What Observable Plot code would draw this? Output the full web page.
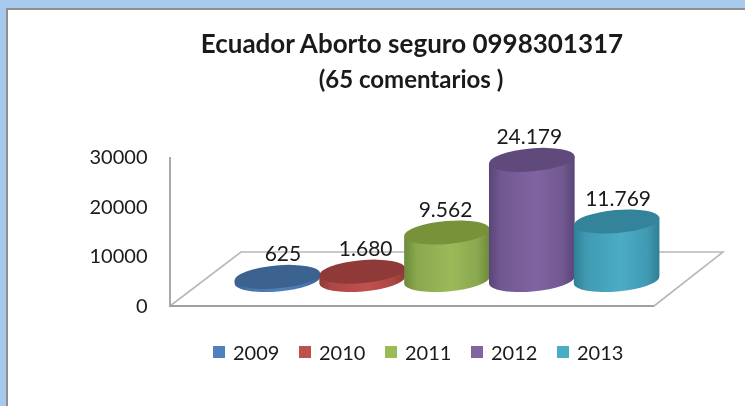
<!DOCTYPE html>
<html>
<head>
<meta charset="utf-8">
<script src="https://cdn.jsdelivr.net/npm/d3@7"></script>
<script src="https://cdn.jsdelivr.net/npm/@observablehq/plot@0.6"></script>
<style>
html,body{margin:0;padding:0;width:745px;height:406px;overflow:hidden;background:#a6c9ec;}
#panel{position:absolute;left:6px;top:8px;width:739px;height:398px;background:#fff;border-left:2px solid #8f8f8f;border-top:2px solid #8f8f8f;box-sizing:border-box;}
#page{position:absolute;left:0;top:0;width:745px;height:406px;font-family:Lato,sans-serif;color:#1a1a1a;filter:blur(0.45px);}
#title{position:absolute;left:0;width:824px;top:28px;text-align:center;font-weight:700;font-size:26px;line-height:30px;}
#subtitle{position:absolute;left:0;width:822px;top:65px;text-align:center;font-weight:700;font-size:24px;line-height:28px;}
#chart{position:absolute;left:0;top:100px;}
#legend{position:absolute;left:213px;top:340px;display:flex;font-size:20px;line-height:24px;}
#legend .item{display:flex;align-items:center;width:86px;}
#legend .sw{width:12px;height:12px;margin-right:8px;}
</style>
</head>
<body>
<div id="panel"></div>
<div id="page">
  <div id="title"></div>
  <div id="subtitle"></div>
  <div id="chart"></div>
  <div id="legend"></div>
</div>
<script>
const titleText = "Ecuador Aborto seguro 0998301317";
const subtitleText = "(65 comentarios )";
const years = ["2009", "2010", "2011", "2012", "2013"];
const counts = [625, 1680, 9562, 24179, 11769];
const yTicks = [0, 10000, 20000, 30000];
const sideColors = ["#4f81bd", "#c0504d", "#9bbb59", "#8064a2", "#4bacc6"];
const edgeColors = ["#3a5f8c", "#8e3a38", "#6d8a3a", "#5b4577", "#2f7f95"];
const topColors = ["#3c6290", "#8f3a38", "#779239", "#604a7b", "#33839b"];
const labelNudge = [5, 3, -2, -3, 1];

const rows = years.map((year, i) => ({year, count: counts[i], i}));
const fmt = d3.formatLocale({decimal: ",", thousands: ".", grouping: [3], currency: ["", ""]}).format(",d");

document.getElementById("title").textContent = titleText;
document.getElementById("subtitle").textContent = subtitleText;

const TILT = -5, RY = 11.5, BASE_RAISE = 26, DEPTH = [71, 69, 54];

function floorRender(index, scales, values, dims) {
  const g = d3.create("svg:g").attr("fill", "none");
  const y0 = scales.y(0), yT = scales.y(30000);
  const xL = dims.marginLeft, xR = dims.width - dims.marginRight;
  g.append("path")
    .attr("d", `M${xL},${y0}L${xL + DEPTH[0]},${y0 - DEPTH[2]}L${xR + DEPTH[1]},${y0 - DEPTH[2]}L${xR},${y0}`)
    .attr("stroke", "#b8b8b8").attr("stroke-width", 1.6);
  g.append("path")
    .attr("d", `M${xL},${yT}L${xL},${y0}L${xR},${y0}`)
    .attr("stroke", "#a0a0a0").attr("stroke-width", 1.8);
  return g.node();
}

function cylinderRender(index, scales, values, dims) {
  const g = d3.create("svg:g");
  const step = Math.abs(scales.x(years[1]) - scales.x(years[0]));
  const rx = step / 2 + 0.6;
  const a = TILT * Math.PI / 180, ux = Math.cos(a) * rx, uy = Math.sin(a) * rx;
  const defs = g.append("defs");
  for (const i of index) {
    const d = rows[i];
    const cx = scales.x(d.year) + step / 2;
    const by = scales.y(0) - BASE_RAISE;
    const ty = scales.y(d.count) - BASE_RAISE;
    const id = "cyl" + i;
    const grad = defs.append("linearGradient").attr("id", id).attr("x1", 0).attr("x2", 1).attr("y1", 0).attr("y2", 0);
    [[0, edgeColors[i]], [0.14, d3.interpolateRgb(edgeColors[i], sideColors[i])(0.6)], [0.55, sideColors[i]], [0.86, d3.interpolateRgb(edgeColors[i], sideColors[i])(0.6)], [1, edgeColors[i]]]
      .forEach(([o, c]) => grad.append("stop").attr("offset", o).attr("stop-color", c));
    g.append("path")
      .attr("d", `M${cx - ux},${by - uy}A${rx},${RY} ${TILT} 0 0 ${cx + ux},${by + uy}L${cx + ux},${ty + uy}L${cx - ux},${ty - uy}Z`)
      .attr("fill", `url(#${id})`);
    g.append("ellipse")
      .attr("cx", cx).attr("cy", ty).attr("rx", rx).attr("ry", RY)
      .attr("transform", `rotate(${TILT} ${cx} ${ty})`)
      .attr("fill", topColors[i]);
  }
  return g.node();
}

const chart = Plot.plot({
  width: 745,
  height: 250,
  marginLeft: 170,
  marginRight: 91,
  marginTop: 57,
  marginBottom: 44,
  style: {background: "transparent", fontFamily: "Lato, sans-serif", fontSize: "20px", color: "#1a1a1a", overflow: "visible"},
  x: {type: "band", domain: years, range: [235, 659], padding: 0, round: false, axis: null},
  y: {domain: [0, 30000], label: null},
  marks: [
    Plot.barY(rows, {x: "year", y: "count", render: floorRender}),
    Plot.axisY({ticks: yTicks, tickSize: 0, tickPadding: 23, tickFormat: d => String(d), label: null, fill: "#1a1a1a", fontSize: 20}),
    Plot.barY(rows, {x: "year", y: "count", render: cylinderRender}),
    Plot.text(rows, {
      x: "year", y: "count",
      text: d => fmt(d.count),
      dy: -49,
      fontSize: 21, fill: "#1a1a1a",
      render(index, scales, values, dims, ctx, next) {
        const node = next(index, scales, values, dims, ctx);
        d3.select(node).selectAll("text").attr("transform", function (_, k) {
          const t = this.getAttribute("transform") || "";
          return `${t} translate(${labelNudge[index[k]]},0)`;
        });
        return node;
      }
    })
  ]
});
document.getElementById("chart").appendChild(chart);

const legend = d3.select("#legend");
years.forEach((year, i) => {
  const item = legend.append("div").attr("class", "item");
  item.append("div").attr("class", "sw").style("background", sideColors[i]);
  item.append("span").text(year);
});
</script>
</body>
</html>
